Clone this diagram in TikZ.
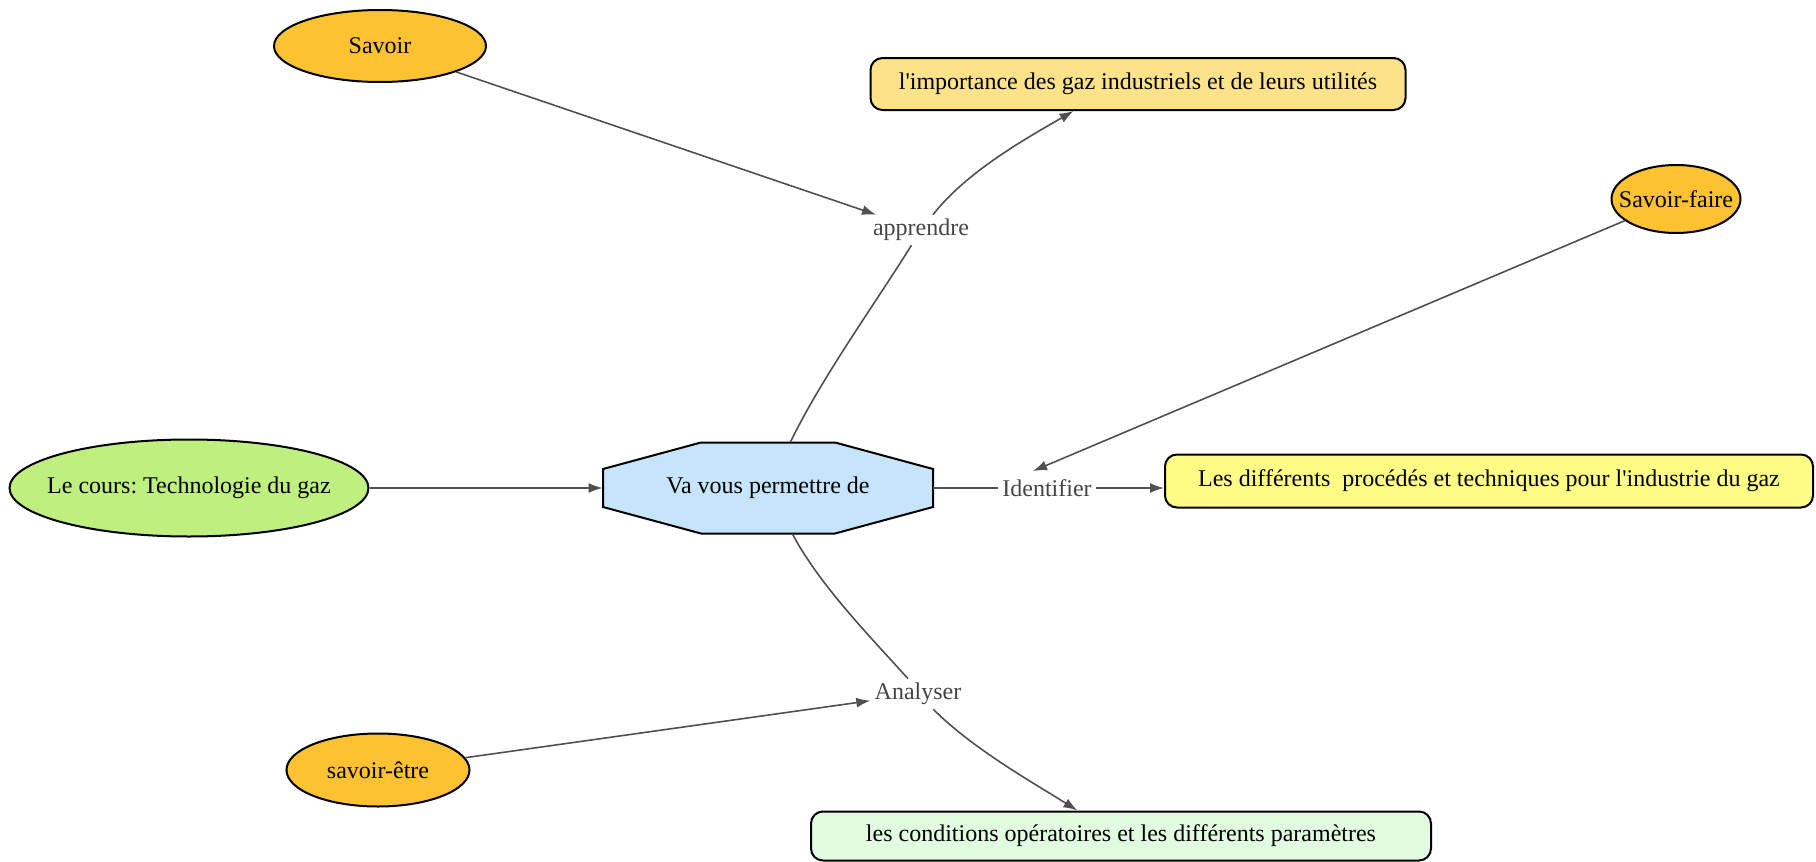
\documentclass[tikz,border=0pt]{standalone}
\usepackage{fontspec}
\setmainfont{Liberation Serif}
\usetikzlibrary{shapes.geometric,calc,arrows.meta}
\definecolor{orangeell}{HTML}{FCC232}
\definecolor{vertell}{HTML}{BFF07F}
\definecolor{bleuoct}{HTML}{C6E5FB}
\definecolor{jauneor}{HTML}{FCE38A}
\definecolor{jaune}{HTML}{FFFC85}
\definecolor{menthe}{HTML}{E0FBE0}
\definecolor{trait}{HTML}{505050}
\definecolor{gristxt}{HTML}{454545}
\frenchspacing
\begin{document}
\begin{tikzpicture}[>={Latex[length=7pt,width=5pt]}, x=0.5pt, y=0.5pt, font=\fontsize{12}{14}\selectfont,
  ell/.style={ellipse, draw=black, line width=1pt, inner sep=0pt, inner xsep=-6pt},
  boite/.style={rectangle, rounded corners=6pt, draw=black, line width=1pt, inner sep=0pt},
  verbe/.style={text=gristxt, inner sep=2pt},
  lien/.style={draw=trait, line width=0.8pt}]
\useasboundingbox (0,0) rectangle (1816,-862);

% les savoirs
\node[ell, fill=orangeell, minimum width=106pt, minimum height=36pt] (savoir) at (380,-46) {Savoir};
\node[ell, fill=orangeell, minimum width=64.5pt, minimum height=34pt] (faire) at (1676,-199) {Savoir-faire};
\node[ell, fill=orangeell, minimum width=91.5pt, minimum height=36.5pt] (etre) at (378,-770) {savoir-être};
\node[ell, fill=vertell, inner xsep=-10pt, minimum width=179.5pt, minimum height=48.5pt] (cours) at (189,-488) {Le cours: Technologie du gaz};

% octogone
\filldraw[fill=bleuoct, line width=1pt] (768,-488) ++(-67,45.5) -- ++(134,0) -- ++(98,-26.5)
  -- ++(0,-38) -- ++(-98,-26.5) -- ++(-134,0) -- ++(-98,26.5) -- ++(0,38) -- cycle;
\node[minimum width=165pt, minimum height=45.5pt] (perm) at (768,-488) {Va vous permettre de};

% les verbes
\node[verbe] (learn) at (921,-230) {apprendre};
\node[verbe] (ident) at (1047,-488) {Identifier};
\node[verbe] (analyse) at (918,-694) {Analyser};

% les objectifs
\node[boite, fill=jauneor, minimum width=267.5pt, minimum height=26pt] (importbox) at (1138,-84)
  {l\textquotesingle importance des gaz industriels et de leurs utilités};
\node[boite, fill=jaune, minimum width=324pt, minimum height=26.5pt] (procbox) at (1489,-481)
  {Les différents~ procédés et techniques pour l\textquotesingle industrie du gaz};
\node[boite, fill=menthe, minimum width=310pt, minimum height=24.5pt] (condbox) at (1121,-836)
  {les conditions opératoires et les différents paramètres};

\draw[lien,->] (cours) -- (perm);
\draw[lien,->] (savoir) -- (learn);
\draw[lien] (perm) to[out=64,in=238,looseness=0.8] (learn);
\draw[lien,->] (learn) to[out=52,in=210,looseness=0.8] ($(importbox.south west)!0.38!(importbox.south east)$);
\draw[lien,->] (faire) -- ([shift={(-7pt,2pt)}]ident.north);
\draw[lien] (perm) -- (ident);
\draw[lien,->] (ident) -- (ident -| procbox.west);
\draw[lien] (perm) to[out=-62,in=132,looseness=0.8] ([xshift=-5pt]analyse.north);
\draw[lien,->] (etre) -- (analyse);
\draw[lien,->] (analyse) to[out=-45,in=148,looseness=0.8] ($(condbox.north west)!0.43!(condbox.north east)$);
\end{tikzpicture}
\end{document}
